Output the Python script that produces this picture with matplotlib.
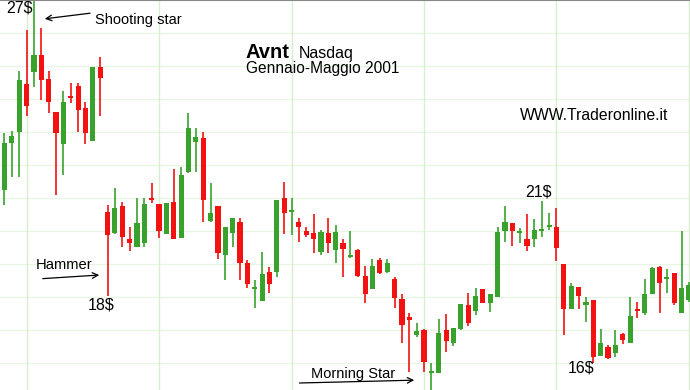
import matplotlib
matplotlib.use("Agg")
import matplotlib.pyplot as plt
import numpy as np

plt.rcParams['font.family'] = ['Liberation Sans', 'DejaVu Sans']

# Avnt - Nasdaq, gennaio-maggio 2001 (prezzi)
aperture = [21.24, 21.24, 22.67, 23.00, 24.45, 24.82, 25.33, 24.61, 23.61, 22.64,
            24.09, 24.39, 23.73, 22.73, 24.97, 20.58, 19.94, 20.76, 19.76, 19.52,
            19.64, 21.00, 20.82, 19.91, 20.88, 19.79, 21.79, 22.70, 22.82, 20.30,
            20.76, 19.27, 19.94, 20.27, 19.03, 18.24, 17.88, 18.76, 18.76, 21.00,
            20.58, 20.27, 20.00, 19.94, 19.36, 19.94, 19.42, 19.64, 19.21, 19.42,
            18.64, 18.24, 19.12, 18.76, 18.55, 17.94, 17.39, 16.85, 17.00, 15.70,
            15.70, 17.00, 16.61, 17.03, 17.76, 17.58, 18.24, 17.82, 18.00, 20.00,
            20.24, 19.94, 19.76, 19.76, 20.00, 20.12, 20.12, 19.00, 17.64, 18.30,
            17.76, 17.91, 16.21, 16.48, 16.30, 16.88, 16.61, 17.64, 17.52, 18.09,
            18.91, 18.55, 18.73, 17.52, 17.91]
massimi = [21.70, 22.97, 23.03, 24.85, 26.09, 27.00, 26.15, 24.85, 23.61, 24.24,
           24.48, 24.48, 23.91, 24.97, 25.27, 20.79, 21.30, 20.88, 20.12, 21.00,
           21.00, 21.45, 20.82, 20.85, 21.88, 21.94, 23.58, 23.12, 23.00, 21.45,
           20.76, 20.12, 20.39, 20.39, 19.12, 18.52, 19.36, 18.91, 20.94, 21.48,
           21.00, 20.39, 20.12, 20.52, 20.03, 20.39, 20.18, 19.76, 20.00, 19.45,
           18.94, 19.15, 19.18, 19.15, 18.61, 18.09, 17.52, 17.21, 17.03, 16.00,
           17.33, 17.48, 17.06, 17.79, 18.12, 18.27, 18.24, 18.09, 20.12, 20.76,
           20.24, 20.09, 20.52, 20.36, 20.91, 20.55, 20.70, 19.00, 18.42, 18.30,
           18.00, 17.91, 17.03, 16.55, 17.00, 16.91, 18.00, 17.85, 18.55, 18.91,
           18.94, 18.85, 18.73, 20.00, 18.45]
minimi = [19.58, 20.79, 21.64, 21.64, 23.48, 24.36, 23.97, 23.58, 21.09, 21.70,
          23.88, 23.00, 22.64, 22.73, 23.48, 18.03, 19.91, 19.52, 19.39, 19.52,
          19.52, 20.85, 19.79, 19.91, 19.76, 19.79, 21.76, 21.79, 20.27, 20.27,
          19.15, 18.52, 19.52, 18.52, 18.27, 17.67, 17.88, 18.12, 18.61, 19.91,
          19.88, 19.67, 19.82, 19.33, 19.27, 19.33, 19.03, 18.61, 19.18, 18.61,
          17.82, 18.24, 18.70, 18.73, 17.67, 16.61, 15.73, 16.79, 15.73, 15.18,
          15.70, 16.33, 16.52, 17.00, 17.12, 17.45, 17.82, 17.55, 18.00, 19.67,
          19.55, 19.64, 19.39, 19.52, 19.82, 20.03, 19.09, 16.85, 17.64, 17.64,
          17.24, 16.00, 16.21, 16.12, 16.18, 16.58, 16.61, 17.36, 17.45, 18.09,
          17.52, 18.12, 17.76, 17.52, 17.85]
chiusure = [21.48, 22.67, 22.88, 24.58, 23.79, 25.33, 24.58, 23.91, 22.97, 23.91,
            24.03, 23.67, 22.97, 24.97, 24.64, 19.88, 20.70, 19.82, 19.64, 20.24,
            20.82, 20.94, 20.00, 20.85, 19.76, 21.70, 23.12, 22.85, 20.94, 20.55,
            19.33, 20.12, 20.39, 19.03, 18.39, 18.30, 18.70, 18.39, 20.94, 20.55,
            20.64, 20.12, 19.88, 19.76, 19.97, 19.64, 19.97, 19.45, 19.27, 18.64,
            18.09, 18.94, 18.73, 19.03, 17.97, 17.15, 17.30, 16.97, 16.03, 15.76,
            16.91, 16.67, 17.06, 17.79, 17.21, 18.03, 17.82, 18.09, 19.97, 20.27,
            20.00, 20.00, 19.55, 20.03, 20.06, 20.18, 19.48, 17.64, 18.33, 18.03,
            17.85, 16.18, 16.61, 16.15, 16.55, 16.70, 17.42, 17.58, 18.09, 18.88,
            18.42, 18.61, 17.82, 18.27, 18.36]

verde = "#38a22c"
rosso = "#f21212"

o = np.array(aperture)
h = np.array(massimi)
l = np.array(minimi)
c = np.array(chiusure)
x = np.arange(len(o))
colori = [verde if c[i] >= o[i] else rosso for i in range(len(o))]

fig = plt.figure(figsize=(6.9, 3.9), dpi=100)
ax = fig.add_axes([0, 0, 1, 1])

# griglia verde chiara
for p in range(16, 27):
    ax.axhline(p, color="#e7f6e3", lw=1, zorder=0)
for g in [4, 22, 40, 58, 76, 94]:
    ax.axvline(g, color="#d6f0cf", lw=1, zorder=0)

ax.vlines(x, l, h, colors=colori, lw=1.2, zorder=2)
altezza = np.maximum(np.abs(c - o), 0.06)
base = np.minimum(o, c)
ax.bar(x, altezza, bottom=base, width=0.7, color=colori, zorder=3)

ax.set_xlim(0.39, 94.14)
ax.set_ylim(15.18, 27.0)
ax.set_xticks([])
ax.set_yticks([])
for s in ["left", "right", "bottom"]:
    ax.spines[s].set_visible(False)
ax.spines["top"].set_color("#888888")
ax.spines["top"].set_linewidth(1.5)

# testi e frecce
ax.text(1.2, 26.76, "27$", fontsize=11.5, ha="left", va="center")
ax.text(13.3, 26.39, "Shooting star", fontsize=10.5, ha="left", va="center")
ax.annotate("", xy=(6.1, 26.42), xytext=(13.0, 26.61),
            arrowprops=dict(arrowstyle="->", color="black", lw=0.9))
ax.text(5.28, 18.97, "Hammer", fontsize=10.6, ha="left", va="center")
ax.annotate("", xy=(14.25, 18.67), xytext=(5.82, 18.55),
            arrowprops=dict(arrowstyle="->", color="black", lw=0.9))
ax.text(14.1, 17.76, "18$", fontsize=11.5, ha="center", va="center")
ax.text(33.7, 25.24, "Avnt", fontsize=14.5, fontweight="bold", ha="left", va="baseline")
ax.text(41.0, 25.24, "Nasdaq", fontsize=11.5, ha="left", va="baseline")
ax.text(33.8, 24.80, "Gennaio-Maggio 2001", fontsize=11.2, ha="left", va="baseline")
ax.text(71.0, 23.36, "WWW.Traderonline.it", fontsize=11.3, ha="left", va="baseline")
ax.text(73.6, 21.18, "21$", fontsize=11.5, ha="center", va="center")
ax.text(79.3, 15.85, "16$", fontsize=11.5, ha="center", va="center")
ax.text(48.35, 15.67, "Morning Star", fontsize=10.5, ha="center", va="center")
ax.annotate("", xy=(57.05, 15.48), xytext=(40.7, 15.39),
            arrowprops=dict(arrowstyle="->", color="black", lw=0.9))

fig.savefig("out.png", dpi=100)
